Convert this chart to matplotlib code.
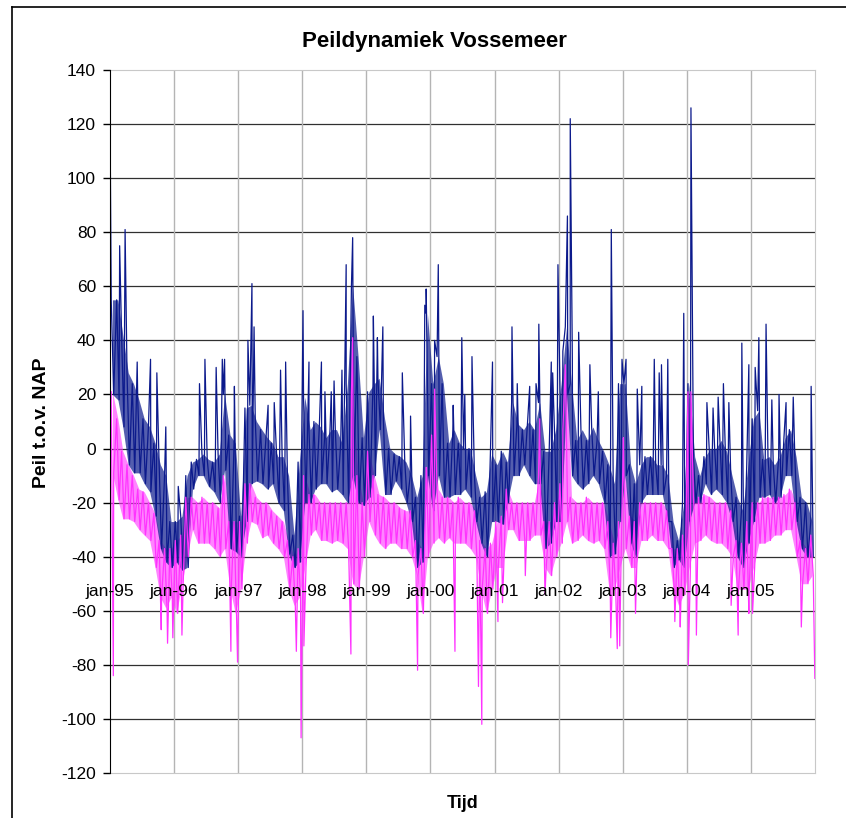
import numpy as np
import pandas as pd
import matplotlib
matplotlib.use('Agg')
from matplotlib import pyplot as plt
from matplotlib.lines import Line2D

plt.rcParams['font.family'] = ['Liberation Sans', 'DejaVu Sans']
plt.rcParams['axes.unicode_minus'] = False

months = pd.date_range('1995-01-01', '2005-12-01', freq='MS')
year_ticks = pd.date_range('1995-01-01', '2006-01-01', freq='YS')
tick_labels = ['jan-95', 'jan-96', 'jan-97', 'jan-98', 'jan-99', 'jan-00',
               'jan-01', 'jan-02', 'jan-03', 'jan-04', 'jan-05']

# blue series: monthly upper / lower level of the dense band (cm t.o.v. NAP)
blue_hi = [55, 55, 42, 28, 24, 18, 11, 8, 2, -6, -10, -27,
           -27, -25, -10, -5, -4, -2, -4, -5, -2, 20, 5, 2,
           -25, 15, 16, 10, 7, 4, 2, -3, -3, -10, -32, -5,
           19, 7, 10, 8, 4, 7, 7, 2, 24, 60, 34, 4,
           21, 24, 26, 11, 0, -2, -3, -5, -10, -18, -10, 50,
           24, 34, 24, 2, 7, 2, 0, 0, -10, -18, -16, -2,
           -6, -1, -5, 17, 9, 7, 10, 7, 17, -1, -1, 7,
           24, 45, 24, 3, 7, 3, 8, 3, -1, -6, -13, 24,
           24, -6, -13, -6, -3, -3, -6, -6, -10, -27, -34, -20,
           24, -3, -10, -3, 0, 0, 3, -1, -10, -18, -23, -6,
           11, 14, -4, -3, -6, -3, 4, 7, -3, -18, -20, -27]
blue_lo = [20, 18, 8, -6, -9, -9, -13, -16, -25, -37, -42, -44,
           -42, -45, -44, -15, -10, -10, -14, -16, -20, -8, -37, -38,
           -40, -27, -13, -12, -13, -15, -13, -20, -23, -39, -44, -42,
           -20, -20, -15, -13, -13, -16, -15, -17, -20, -10, -20, -21,
           -18, -10, 7, -17, -17, -12, -15, -20, -27, -44, -42, -10,
           -23, -10, -18, -18, -17, -17, -15, -18, -27, -35, -40, -27,
           -27, -28, -20, -10, -10, -6, -10, -13, -13, -37, -35, -27,
           -27, 20, -10, -13, -15, -13, -10, -13, -20, -40, -39, -27,
           -10, -35, -40, -20, -17, -17, -17, -17, -27, -44, -41, -44,
           -27, -20, -20, -13, -17, -15, -17, -20, -27, -40, -44, -35,
           -27, -18, -18, -17, -20, -18, -10, -10, -27, -37, -40, -40]
blue_spikes = [('1995-01-02', 114), ('1995-02-25', 75), ('1995-03-28', 81),
               ('1995-06-05', 32), ('1995-08-20', 33), ('1995-09-25', 28),
               ('1995-11-15', 8), ('1996-01-25', -14), ('1996-05-25', 24),
               ('1996-06-25', 33), ('1996-08-28', 30), ('1996-10-02', 33),
               ('1996-10-15', 33), ('1996-12-10', 23), ('1997-02-25', 40),
               ('1997-03-20', 61), ('1997-04-01', 45), ('1997-06-20', 16),
               ('1997-07-25', 17), ('1997-08-30', 29), ('1997-09-28', 32),
               ('1998-01-05', 51), ('1998-02-08', 32), ('1998-04-20', 32),
               ('1998-05-10', 21), ('1998-06-15', 21), ('1998-07-01', 25),
               ('1998-08-15', 29), ('1998-09-08', 68), ('1998-10-15', 78),
               ('1999-02-10', 49), ('1999-03-05', 41), ('1999-04-05', 45),
               ('1999-07-25', 28), ('1999-09-10', 12), ('1999-11-30', 53),
               ('1999-12-08', 59), ('2000-01-25', 40), ('2000-02-15', 68),
               ('2000-05-10', 16), ('2000-06-28', 41), ('2000-07-15', 20),
               ('2000-08-25', 34), ('2000-12-20', 32), ('2001-04-10', 45),
               ('2001-05-10', 24), ('2001-07-20', 23), ('2001-08-25', 24),
               ('2001-09-10', 46), ('2001-11-20', 32), ('2001-11-28', 28),
               ('2001-12-28', 68), ('2002-01-25', 36), ('2002-02-20', 86),
               ('2002-03-08', 122), ('2002-03-20', 33), ('2002-04-25', 43),
               ('2002-06-28', 31), ('2002-08-15', 21), ('2002-10-28', 81),
               ('2002-12-28', 33), ('2003-01-20', 33), ('2003-03-25', 22),
               ('2003-04-20', 23), ('2003-06-30', 33), ('2003-07-28', 28),
               ('2003-08-10', 31), ('2003-09-15', 33), ('2003-12-15', 50),
               ('2004-01-25', 126), ('2004-04-25', 17), ('2004-05-30', 15),
               ('2004-06-28', 19), ('2004-07-28', 24), ('2004-08-28', 17),
               ('2004-11-10', 39), ('2004-12-20', 31), ('2005-01-25', 30),
               ('2005-02-15', 41), ('2005-03-28', 46), ('2005-04-30', 18),
               ('2005-06-10', 20), ('2005-07-20', 17), ('2005-08-30', 19),
               ('2005-12-10', 23)]

# pink series
pink_hi = [21, 11, -1, -6, -10, -15, -16, -20, -24, -34, -37, -37,
           -34, -32, -18, -18, -20, -18, -20, -20, -22, -10, -27, -27,
           -27, -13, -13, -18, -20, -20, -23, -25, -27, -34, -40, -37,
           -10, -17, -17, -20, -20, -20, -20, -20, -20, 20, -10, -20,
           -1, -10, -17, -18, -20, -20, -22, -23, -23, -34, -37, -7,
           5, -15, -18, -18, -20, -18, -20, -20, -23, -34, -37, -35,
           -27, -25, -15, -20, -20, -20, -20, -20, -10, -27, -27, -20,
           -13, 31, -18, -20, -20, -18, -20, -20, -20, -27, -35, -27,
           -10, -25, -27, -20, -20, -20, -20, -20, -23, -37, -37, -32,
           21, -18, -18, -17, -18, -20, -20, -20, -23, -34, -35, -27,
           -20, -20, -18, -18, -18, -18, -17, -15, -20, -34, -37, -32]
pink_lo = [-9, -19, -26, -26, -27, -30, -32, -34, -44, -55, -59, -55,
           -61, -50, -40, -30, -35, -35, -35, -37, -40, -37, -52, -61,
           -52, -35, -27, -28, -33, -32, -35, -37, -40, -52, -58, -55,
           -44, -32, -30, -34, -34, -35, -34, -35, -37, -50, -52, -40,
           -27, -32, -35, -37, -35, -35, -37, -37, -40, -47, -61, -40,
           -35, -33, -35, -33, -35, -35, -35, -37, -40, -52, -61, -52,
           -44, -44, -30, -30, -34, -34, -34, -32, -32, -44, -47, -40,
           -35, -27, -35, -34, -32, -34, -35, -34, -37, -52, -52, -44,
           -37, -44, -44, -34, -34, -32, -34, -34, -37, -52, -58, -54,
           -44, -35, -34, -32, -34, -35, -35, -37, -40, -52, -52, -52,
           -44, -35, -35, -34, -32, -32, -30, -30, -40, -50, -50, -47]
pink_spikes = [('1995-01-20', -84), ('1995-10-20', -67), ('1995-11-25', -72),
               ('1995-12-25', -70), ('1996-02-15', -69), ('1996-11-20', -75),
               ('1996-12-28', -79), ('1997-11-28', -75), ('1997-12-25', -107),
               ('1998-01-10', -73), ('1998-10-05', -76), ('1998-10-15', 41),
               ('1999-10-20', -82), ('1999-12-10', -7), ('2000-01-25', 22),
               ('2000-05-20', -75), ('2000-10-01', -88), ('2000-10-20', -102),
               ('2001-01-20', -64), ('2001-02-15', -57), ('2001-06-25', -47),
               ('2001-09-15', 11), ('2001-10-15', -54), ('2002-01-25', 7),
               ('2002-10-25', -70), ('2002-12-01', -74), ('2002-12-15', -73),
               ('2003-01-05', 4), ('2003-03-15', -61), ('2003-10-25', -64),
               ('2003-11-25', -66), ('2004-01-10', -80), ('2004-01-25', 21),
               ('2004-02-25', -69), ('2004-09-10', -58), ('2004-10-20', -69),
               ('2004-12-20', -61), ('2005-01-10', -61), ('2005-10-15', -66),
               ('2005-12-31', -85)]


def trace(hi, lo, spikes):
    t = list(months + pd.Timedelta(days=7)) + list(months + pd.Timedelta(days=21))
    v = list(hi) + list(lo)
    t += [pd.Timestamp(d) for d, _ in spikes]
    v += [s for _, s in spikes]
    df = pd.DataFrame({'t': t, 'v': v}).sort_values('t')
    return df['t'], df['v']


blue_c = '#0c1a8c'
pink_c = '#ff33ff'

fig = plt.figure(figsize=(8.46, 8.18), dpi=100)
ax = fig.add_axes([110 / 846, 1 - 773 / 818, 705 / 846, 703 / 818])

mid = months + pd.Timedelta(days=14)
ax.fill_between(mid, pink_lo, pink_hi, color=pink_c, alpha=0.6, lw=0, zorder=2)
ax.fill_between(mid, blue_lo, blue_hi, color=blue_c, alpha=0.7, lw=0, zorder=2.1)
bt, bv = trace(blue_hi, blue_lo, blue_spikes)
pt, pv = trace(pink_hi, pink_lo, pink_spikes)
ax.plot(bt, bv, color=blue_c, lw=0.9, zorder=3)
ax.plot(pt, pv, color=pink_c, lw=0.9, zorder=3.2)

ax.set_xlim(year_ticks[0], year_ticks[-1])
ax.set_ylim(-120, 140)
ax.set_yticks(range(-120, 141, 20))
ax.tick_params(axis='y', direction='out', length=5, width=1, pad=5,
               labelsize=12.5)
ax.set_xticks(year_ticks)
ax.tick_params(axis='x', length=0, labelbottom=False)
for y in range(-100, 140, 20):
    ax.axhline(y, color='#303030', lw=0.9, zorder=1)
for d in year_ticks[1:-1]:
    ax.axvline(d, color='#b4b4b4', lw=1.0, zorder=1)
for side in ['top', 'right', 'bottom']:
    ax.spines[side].set_color('#c8c8c8')
ax.spines['left'].set_color('black')
ax.spines['left'].set_zorder(5)

for d, lab in zip(year_ticks, tick_labels):
    ax.text(d, -53, lab, ha='center', va='center', fontsize=12.5,
            clip_on=False, zorder=6)

fig.text(434 / 846, 1 - 42 / 818, 'Peildynamiek Vossemeer', ha='center',
         va='center', fontsize=16, fontweight='bold')
fig.text(42 / 846, 1 - 423 / 818, 'Peil t.o.v. NAP', ha='center', va='center',
         rotation=90, fontsize=14, fontweight='bold')
fig.text(463 / 846, 1 - 803 / 818, 'Tijd', ha='center', va='center',
         fontsize=13, fontweight='bold')

fig.add_artist(Line2D([12 / 846, 12 / 846], [0, 1 - 7 / 818], color='black',
                      lw=1.2, transform=fig.transFigure))
fig.add_artist(Line2D([12 / 846, 1], [1 - 7 / 818, 1 - 7 / 818], color='black',
                      lw=1.2, transform=fig.transFigure))

fig.savefig('out.png', dpi=100)
